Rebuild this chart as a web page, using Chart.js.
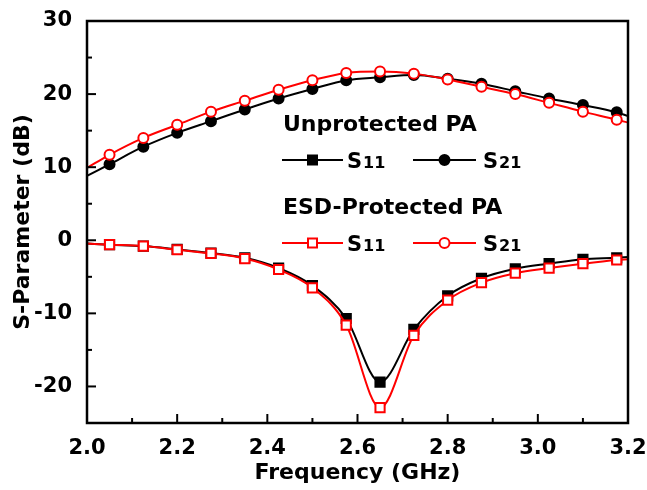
<!DOCTYPE html>
<html>
<head>
<meta charset="utf-8">
<script src="https://cdn.jsdelivr.net/npm/chart.js@4"></script>
<style>
  html, body { margin: 0; padding: 0; background: #fff; }
  #wrap { width: 647px; height: 490px; }
</style>
</head>
<body>
<div id="wrap"><canvas id="chart" width="647" height="490"></canvas></div>
<script>
// frequency points (GHz); first and last only carry the line to the frame
const freq = [2.0, 2.05, 2.125, 2.2, 2.275, 2.35, 2.425, 2.5, 2.575, 2.65, 2.725, 2.8, 2.875, 2.95, 3.025, 3.1, 3.175, 3.2];

const unS11 = [-0.45, -0.6, -0.8, -1.25, -1.75, -2.4, -3.8, -6.2, -10.7, -19.4, -12.2, -7.6, -5.2, -3.9, -3.2, -2.6, -2.4, -2.3];
const unS21 = [8.8, 10.4, 12.8, 14.7, 16.3, 17.9, 19.4, 20.7, 21.9, 22.3, 22.6, 22.1, 21.4, 20.4, 19.4, 18.5, 17.5, 17.0];
const esdS11 = [-0.45, -0.6, -0.8, -1.3, -1.8, -2.5, -4.0, -6.5, -11.6, -22.9, -13.0, -8.2, -5.8, -4.5, -3.8, -3.2, -2.7, -2.6];
const esdS21 = [9.9, 11.7, 14.0, 15.8, 17.6, 19.1, 20.6, 21.9, 22.9, 23.1, 22.8, 22.0, 21.0, 20.0, 18.8, 17.6, 16.5, 16.1];

const xTicks = [2.0, 2.2, 2.4, 2.6, 2.8, 3.0, 3.2];
const yTicks = [-20, -10, 0, 10, 20, 30];

const RED = '#ff0000';
const BLACK = '#000000';
const FONT = '"DejaVu Sans", sans-serif';

const toXY = ys => freq.map((x, i) => ({ x: x, y: ys[i] }));
// hide markers on the two end points
const radii = r => freq.map((_, i) => (i === 0 || i === freq.length - 1) ? 0 : r);

function series(label, ys, color, style, filled, order) {
  return {
    label: label,
    data: toXY(ys),
    borderColor: color,
    borderWidth: 2,
    pointStyle: style,
    pointRadius: radii(style === 'rect' ? 6.5 : 5),
    pointBorderWidth: 2,
    pointBackgroundColor: filled ? color : '#fff',
    pointBorderColor: color,
    cubicInterpolationMode: 'monotone',
    tension: 0.4,
    order: order
  };
}

// inward ticks + full frame
const framePlugin = {
  id: 'frame',
  afterDraw(chart) {
    const { ctx, chartArea: a, scales } = chart;
    ctx.save();
    ctx.strokeStyle = '#000';
    ctx.lineWidth = 2;
    for (let v = -25; v <= 30; v += 5) {
      const y = scales.y.getPixelForValue(v);
      const len = v % 10 === 0 ? 9 : 5;
      ctx.beginPath(); ctx.moveTo(a.left, y); ctx.lineTo(a.left + len, y); ctx.stroke();
    }
    for (let i = 0; i <= 12; i++) {
      const v = 2 + i * 0.1;
      const x = scales.x.getPixelForValue(v);
      const len = i % 2 === 0 ? 9 : 5;
      ctx.beginPath(); ctx.moveTo(x, a.bottom); ctx.lineTo(x, a.bottom - len); ctx.stroke();
    }
    ctx.lineWidth = 2.5;
    ctx.strokeRect(a.left, a.top, a.right - a.left, a.bottom - a.top);
    ctx.restore();
  }
};

// two-group legend drawn inside the plot
const legendPlugin = {
  id: 'groupLegend',
  afterDraw(chart) {
    const ctx = chart.ctx;
    ctx.save();
    ctx.textBaseline = 'middle';
    ctx.fillStyle = '#000';

    function sample(x0, x1, y, color, style, filled) {
      ctx.strokeStyle = color;
      ctx.lineWidth = 2;
      ctx.beginPath(); ctx.moveTo(x0, y); ctx.lineTo(x1, y); ctx.stroke();
      const cx = (x0 + x1) / 2;
      ctx.fillStyle = filled ? color : '#fff';
      ctx.beginPath();
      if (style === 'rect') ctx.rect(cx - 4.5, y - 4.5, 9, 9);
      else ctx.arc(cx, y, 5, 0, Math.PI * 2);
      ctx.fill(); ctx.stroke();
    }
    function sLabel(x, y, sub) {
      ctx.fillStyle = '#000';
      ctx.textBaseline = 'alphabetic';
      ctx.font = 'bold 21px ' + FONT;
      ctx.fillText('S', x, y + 8);
      const w = ctx.measureText('S').width;
      ctx.font = 'bold 16px ' + FONT;
      ctx.fillText(sub, x + w + 1, y + 8);
      ctx.textBaseline = 'middle';
    }

    const groups = [
      { title: 'Unprotected PA', y: 125, color: BLACK, filled: true },
      { title: 'ESD-Protected PA', y: 208, color: RED, filled: false }
    ];
    groups.forEach(g => {
      ctx.fillStyle = '#000';
      ctx.font = 'bold 22px ' + FONT;
      ctx.fillText(g.title, 283, g.y);
      const ry = g.y + 35;
      sample(282, 343, ry, g.color, 'rect', g.filled);
      sLabel(347, ry, '11');
      sample(413, 476, ry, g.color, 'circle', g.filled);
      sLabel(483, ry, '21');
    });
    ctx.restore();
  }
};

new Chart(document.getElementById('chart'), {
  type: 'line',
  data: {
    datasets: [
      series('Unprotected S11', unS11, BLACK, 'rect', true, 2),
      series('Unprotected S21', unS21, BLACK, 'circle', true, 2),
      series('ESD-Protected S11', esdS11, RED, 'rect', false, 1),
      series('ESD-Protected S21', esdS21, RED, 'circle', false, 1)
    ]
  },
  options: {
    responsive: false,
    animation: false,
    layout: { padding: { top: 21, right: 19, left: 0, bottom: 0 } },
    plugins: { legend: { display: false }, tooltip: { enabled: false } },
    scales: {
      x: {
        type: 'linear',
        min: 2.0,
        max: 3.2,
        afterBuildTicks: s => { s.ticks = xTicks.map(v => ({ value: v })); },
        afterFit: s => { s.height = 67; s.paddingLeft = 0; s.paddingRight = 0; },
        grid: { display: false },
        border: { display: false },
        ticks: {
          color: '#000',
          padding: 5,
          font: { family: FONT, size: 21, weight: 'bold' },
          callback: v => v.toFixed(1)
        },
        title: {
          display: true,
          text: 'Frequency (GHz)',
          color: '#000',
          font: { family: FONT, size: 22, weight: 'bold' },
          padding: { top: 4, bottom: 4 }
        }
      },
      y: {
        min: -25,
        max: 30,
        afterBuildTicks: s => { s.ticks = yTicks.map(v => ({ value: v })); },
        afterFit: s => { s.width = 87; s.paddingTop = 0; s.paddingBottom = 0; },
        grid: { display: false },
        border: { display: false },
        ticks: {
          color: '#000',
          padding: 7,
          font: { family: FONT, size: 21, weight: 'bold' },
          callback: v => String(v)
        },
        title: {
          display: true,
          text: 'S-Parameter (dB)',
          color: '#000',
          font: { family: FONT, size: 22, weight: 'bold' },
          padding: { top: 10, bottom: 10 }
        }
      }
    }
  },
  plugins: [framePlugin, legendPlugin]
});
</script>
</body>
</html>
